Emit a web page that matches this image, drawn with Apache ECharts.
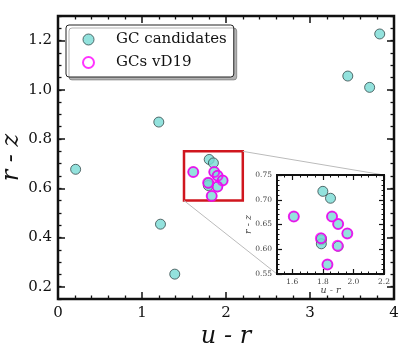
<!DOCTYPE html>
<html>
<head>
<meta charset="utf-8">
<script src="https://cdn.jsdelivr.net/npm/echarts@6/dist/echarts.min.js"></script>
<style>
  html, body { margin: 0; padding: 0; background: #fff; }
  #chart { width: 415px; height: 346px; }
</style>
</head>
<body>
<div id="chart"></div>
<script>
// GC candidates (u - r, r - z)
const gcUR = [0.21, 1.20, 1.22, 1.39, 3.45, 3.71, 3.83, 1.80, 1.85, 1.79, 1.79, 1.61, 1.86, 1.90, 1.96, 1.79, 1.90, 1.83]
const gcRZ = [0.677, 0.869, 0.454, 0.251, 1.056, 1.010, 1.227, 0.717, 0.703, 0.619, 0.611, 0.666, 0.666, 0.651, 0.632, 0.622, 0.606, 0.569]
// GCs from vD19
const vdUR = [1.61, 1.86, 1.90, 1.96, 1.787, 1.897, 1.83]
const vdRZ = [0.666, 0.666, 0.651, 0.632, 0.622, 0.607, 0.569]
// tick labels
const mainYTicks = [0.2, 0.4, 0.6, 0.8, 1.0, 1.2]
const insetXTicks = [1.6, 1.8, 2.0, 2.2]
// zoom box
const zoomX = [1.5, 2.2]
const zoomY = [0.55, 0.75]

const gcData = gcUR.map((u, i) => [u, gcRZ[i]])
const vdData = vdUR.map((u, i) => [u, vdRZ[i]])

const serif = 'DejaVu Serif'
const ink = '#111'
const cyan = '#78dbd4'
const edge = '#34494a'
const magenta = '#ff00ff'

const dom = document.getElementById('chart')
const chart = echarts.init(dom, null, { renderer: 'canvas' })

function tickAxis (extra) {
  return Object.assign({
    type: 'value',
    axisLine: { show: false },
    splitLine: { show: false },
    axisLabel: { show: false },
    nameMoveOverlap: false,
    axisTick: { inside: true, length: 3.5, lineStyle: { color: ink, width: 1.3 } }
  }, extra)
}

const gcStyle = { color: cyan, borderColor: edge, borderWidth: 1 }
const vdStyle = { color: 'rgba(0,0,0,0)', borderColor: magenta, borderWidth: 2 }

const option = {
  animation: false,
  grid: [
    { left: 58, top: 16, width: 336, height: 283, outerBoundsMode: 'none', containLabel: false,
      show: true, borderColor: ink, borderWidth: 2.5, backgroundColor: 'rgba(0,0,0,0)' },
    { left: 277, top: 175, width: 107, height: 99, outerBoundsMode: 'none', containLabel: false,
      show: true, borderColor: ink, borderWidth: 2, backgroundColor: '#fff', z: 5 }
  ],
  legend: {
    left: 66,
    top: 25,
    orient: 'vertical',
    padding: [7, 7, 7, 16],
    itemGap: 8,
    itemWidth: 11,
    itemHeight: 11,
    backgroundColor: '#fff',
    borderColor: '#222',
    borderWidth: 1,
    borderRadius: 3,
    shadowColor: 'rgba(0,0,0,0.3)',
    shadowOffsetX: 3,
    shadowOffsetY: 3,
    shadowBlur: 0,
    textStyle: { fontFamily: serif, fontSize: 15, color: ink, padding: [0, 0, 0, 17] },
    data: [
      { name: 'GC candidates', icon: 'circle', itemStyle: gcStyle },
      { name: 'GCs vD19', icon: 'circle', itemStyle: { color: '#fff', borderColor: magenta, borderWidth: 2 } }
    ]
  },
  xAxis: [
    tickAxis({
      gridIndex: 0, position: 'bottom', min: 0, max: 4, interval: 1,
      axisTick: { inside: true, length: 7, lineStyle: { color: ink, width: 1.5 } },
      minorTick: { show: true, splitNumber: 5, length: 3.5, lineStyle: { color: ink, width: 1.3 } },
      axisLabel: { show: true, fontFamily: serif, fontSize: 15, color: ink, margin: 7 },
      name: 'u - r', nameLocation: 'middle', nameGap: 26,
      nameTextStyle: { fontFamily: serif, fontStyle: 'italic', fontSize: 24, color: ink }
    }),
    tickAxis({
      gridIndex: 0, position: 'top', min: 0, max: 4, interval: 1,
      axisTick: { inside: true, length: 7, lineStyle: { color: ink, width: 1.5 } },
      minorTick: { show: true, splitNumber: 5, length: 3.5, lineStyle: { color: ink, width: 1.3 } }
    }),
    // inset
    tickAxis({ gridIndex: 1, position: 'bottom', min: zoomX[0], max: zoomX[1], interval: 0.05, z: 7,
      axisTick: { inside: true, length: 2.5, lineStyle: { color: ink, width: 1 } } }),
    tickAxis({
      gridIndex: 1, position: 'bottom', min: zoomX[0], max: zoomX[1], z: 7,
      axisTick: { inside: true, length: 5, customValues: insetXTicks, lineStyle: { color: ink, width: 1.2 } },
      axisLabel: { show: true, customValues: insetXTicks, formatter: v => v.toFixed(1), fontFamily: serif, fontSize: 7.5, color: '#444', margin: 4 },
      name: 'u - r', nameLocation: 'middle', nameGap: 12,
      nameTextStyle: { fontFamily: serif, fontStyle: 'italic', fontSize: 9.5, color: '#444' }
    }),
    tickAxis({ gridIndex: 1, position: 'top', min: zoomX[0], max: zoomX[1], interval: 0.05, z: 7,
      axisTick: { inside: true, length: 2.5, lineStyle: { color: ink, width: 1 } } }),
    tickAxis({ gridIndex: 1, position: 'top', min: zoomX[0], max: zoomX[1], z: 7,
      axisTick: { inside: true, length: 5, customValues: insetXTicks, lineStyle: { color: ink, width: 1.2 } } })
  ],
  yAxis: [
    tickAxis({
      gridIndex: 0, position: 'left', min: 0.15, max: 1.3,
      axisTick: { inside: true, length: 7, customValues: mainYTicks, lineStyle: { color: ink, width: 1.5 } },
      axisLabel: { show: true, customValues: mainYTicks, formatter: v => v.toFixed(1), fontFamily: serif, fontSize: 15, color: ink, margin: 6 },
      name: 'r - z', nameLocation: 'middle', nameGap: 34,
      nameTextStyle: { fontFamily: serif, fontStyle: 'italic', fontSize: 24, color: ink }
    }),
    tickAxis({ gridIndex: 0, position: 'left', min: 0.15, max: 1.3, interval: 0.05 }),
    tickAxis({
      gridIndex: 0, position: 'right', min: 0.15, max: 1.3,
      axisTick: { inside: true, length: 7, customValues: mainYTicks, lineStyle: { color: ink, width: 1.5 } }
    }),
    tickAxis({ gridIndex: 0, position: 'right', min: 0.15, max: 1.3, interval: 0.05 }),
    // inset
    tickAxis({
      gridIndex: 1, position: 'left', min: zoomY[0], max: zoomY[1], interval: 0.05, z: 7,
      axisTick: { inside: true, length: 5, lineStyle: { color: ink, width: 1.2 } },
      minorTick: { show: true, splitNumber: 5, length: 2.5, lineStyle: { color: ink, width: 1 } },
      axisLabel: { show: true, formatter: v => v.toFixed(2), fontFamily: serif, fontSize: 7.5, color: '#444', margin: 5 },
      name: 'r - z', nameLocation: 'middle', nameGap: 23,
      nameTextStyle: { fontFamily: serif, fontStyle: 'italic', fontSize: 9.5, color: '#444' }
    }),
    tickAxis({
      gridIndex: 1, position: 'right', min: zoomY[0], max: zoomY[1], interval: 0.05, z: 7,
      axisTick: { inside: true, length: 5, lineStyle: { color: ink, width: 1.2 } },
      minorTick: { show: true, splitNumber: 5, length: 2.5, lineStyle: { color: ink, width: 1 } }
    })
  ],
  series: [
    {
      name: 'GC candidates', type: 'scatter', xAxisIndex: 0, yAxisIndex: 0,
      symbolSize: 10, itemStyle: gcStyle, data: gcData, z: 2
    },
    {
      name: 'GCs vD19', type: 'scatter', xAxisIndex: 0, yAxisIndex: 0,
      symbolSize: 10, itemStyle: vdStyle, data: vdData, z: 3,
      markArea: {
        silent: true,
        label: { show: false },
        itemStyle: { color: 'rgba(0,0,0,0)', borderColor: '#d0161e', borderWidth: 2.5, opacity: 1 },
        data: [[{ coord: [zoomX[0], zoomY[1]] }, { coord: [zoomX[1], zoomY[0]] }]]
      }
    },
    {
      name: 'GC candidates', type: 'scatter', xAxisIndex: 2, yAxisIndex: 4,
      symbolSize: 10, itemStyle: gcStyle, data: gcData, z: 6
    },
    {
      name: 'GCs vD19', type: 'scatter', xAxisIndex: 2, yAxisIndex: 4,
      symbolSize: 10, itemStyle: vdStyle, data: vdData, z: 6
    }
  ]
}

chart.setOption(option)

// connector lines between the zoom box and the inset
const a1 = chart.convertToPixel({ xAxisIndex: 0, yAxisIndex: 0 }, [zoomX[1], zoomY[1]])
const b1 = chart.convertToPixel({ xAxisIndex: 2, yAxisIndex: 4 }, [zoomX[1], zoomY[1]])
const a2 = chart.convertToPixel({ xAxisIndex: 0, yAxisIndex: 0 }, [zoomX[0], zoomY[0]])
const b2 = chart.convertToPixel({ xAxisIndex: 2, yAxisIndex: 4 }, [zoomX[0], zoomY[0]])
const lineStyle = { stroke: '#bbb', lineWidth: 1 }
chart.setOption({
  graphic: [
    { type: 'line', z: 1, silent: true, shape: { x1: a1[0], y1: a1[1], x2: b1[0], y2: b1[1] }, style: lineStyle },
    { type: 'line', z: 1, silent: true, shape: { x1: a2[0], y1: a2[1], x2: b2[0], y2: b2[1] }, style: lineStyle }
  ]
})
</script>
</body>
</html>
